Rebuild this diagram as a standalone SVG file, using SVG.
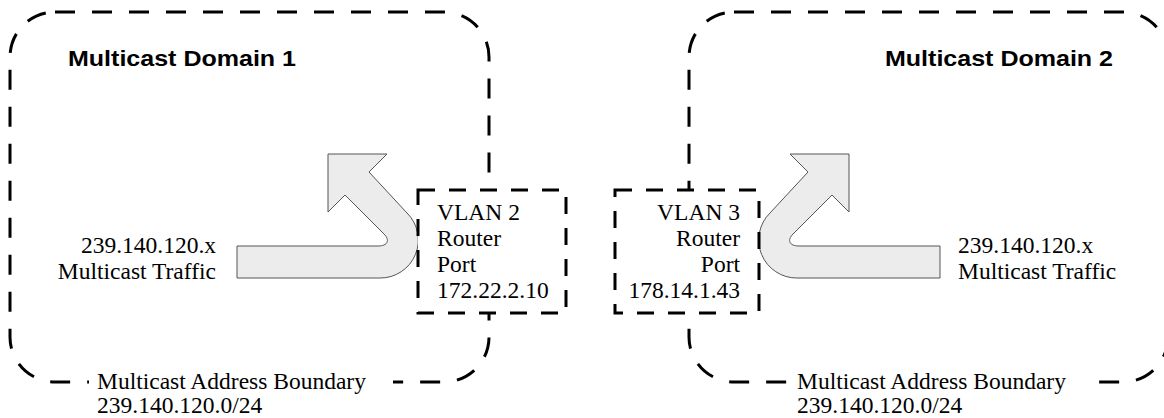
<svg xmlns="http://www.w3.org/2000/svg" width="1164" height="418" viewBox="0 0 1164 418">
<style>
.domain{fill:none;stroke:#000;stroke-width:3;stroke-dasharray:20 17}
.port{fill:#fff;stroke:#000;stroke-width:3;stroke-dasharray:17 14}
.flow{fill:#ececec;stroke:#555;stroke-width:1}
.t{font-family:"Liberation Serif","Times New Roman",serif;font-size:23.5px;fill:#000}
.title{font-family:"Liberation Sans",Arial,sans-serif;font-weight:bold;font-size:22px;fill:#000}
.mask{fill:#fff;stroke:none}
</style>
<rect width="1164" height="418" fill="#fff"/>
<g id="domain1">
<rect class="domain" x="10" y="12" width="479" height="370" rx="45" ry="45"/>
<text class="title" x="68" y="66" textLength="228" lengthAdjust="spacingAndGlyphs">Multicast Domain 1</text>
<rect class="mask" x="89" y="368" width="304" height="50"/>
<text class="t" x="97" y="389">Multicast Address Boundary</text>
<text class="t" x="97" y="413">239.140.120.0/24</text>
<text class="t" x="216" y="253" text-anchor="end">239.140.120.x</text>
<text class="t" x="216" y="279" text-anchor="end">Multicast Traffic</text>
</g>
<g id="domain2">
<rect class="domain" x="689" y="12" width="479" height="370" rx="45" ry="45"/>
<text class="title" x="885" y="66" textLength="228" lengthAdjust="spacingAndGlyphs">Multicast Domain 2</text>
<rect class="mask" x="787" y="368" width="298" height="50"/>
<text class="t" x="797" y="389">Multicast Address Boundary</text>
<text class="t" x="797" y="413">239.140.120.0/24</text>
<text class="t" x="958" y="253">239.140.120.x</text>
<text class="t" x="958" y="279">Multicast Traffic</text>
</g>
<g id="connectors">
<path id="flow1" class="flow" d="M237,246 L378,246 C388,246 390,240 384,234 L345,195 L328,212 L328,154 L387,154 L369,172 L407,213 A38,38 0 0 1 380,278 L237,278 Z"/>
<path id="flow2" class="flow" d="M940,246 L799,246 C789,246 787,240 793,234 L832,195 L849,212 L849,154 L790,154 L808,172 L770,213 A38,38 0 0 0 797,278 L940,278 Z"/>
</g>
<g id="vlan2">
<rect class="port" x="418" y="190" width="148" height="123"/>
<text class="t" x="437" y="220">VLAN 2</text>
<text class="t" x="437" y="246">Router</text>
<text class="t" x="437" y="272">Port</text>
<text class="t" x="437" y="298">172.22.2.10</text>
</g>
<g id="vlan3">
<rect class="port" x="615" y="190" width="144" height="123"/>
<text class="t" x="740" y="220" text-anchor="end">VLAN 3</text>
<text class="t" x="740" y="246" text-anchor="end">Router</text>
<text class="t" x="740" y="272" text-anchor="end">Port</text>
<text class="t" x="740" y="298" text-anchor="end">178.14.1.43</text>
</g>
</svg>
